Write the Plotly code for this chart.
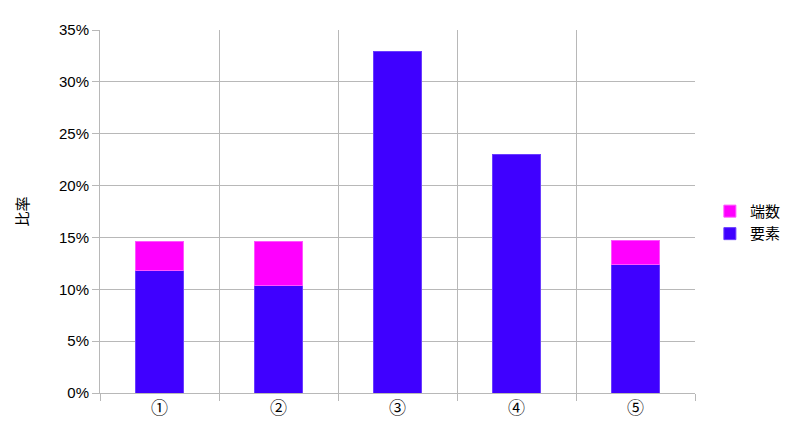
import plotly.graph_objects as go

# categories and values (percent)
categories = ["①", "②", "③", "④", "⑤"]
youso = [11.8, 10.4, 32.9, 22.95, 12.35]   # 要素
hasuu = [2.8, 4.2, None, None, 2.37]        # 端数

font_main = "Liberation Sans, Noto Sans CJK JP, sans-serif"
font_jp = "Noto Sans CJK JP, sans-serif"

fig = go.Figure()
fig.add_trace(go.Bar(
    x=categories, y=youso, name="要素",
    marker=dict(color="#3f00ff", line=dict(color="#6a3dff", width=1)),
))
fig.add_trace(go.Bar(
    x=categories, y=hasuu, name="端数",
    marker=dict(color="#ff00ff", line=dict(color="#ff55ff", width=1)),
))

# page body has an 8px margin, so the margins are shifted accordingly
fig.update_layout(
    barmode="stack",
    bargap=0.59,
    width=800, height=440,
    margin=dict(l=92, r=113, t=22, b=55),
    paper_bgcolor="white",
    plot_bgcolor="white",
    font=dict(family=font_main, size=15, color="black"),
    showlegend=True,
    legend=dict(
        x=1.025, y=0.47, xanchor="left", yanchor="middle",
        traceorder="reversed",
        itemwidth=30,
        font=dict(family=font_jp, size=15),
        tracegroupgap=0,
    ),
    xaxis=dict(
        type="category",
        tickson="boundaries",
        showgrid=True, gridcolor="#b8b8b8", gridwidth=1,
        ticks="outside", ticklen=7, tickcolor="#b8b8b8",
        showline=True, linecolor="#b8b8b8",
        tickfont=dict(family=font_jp, size=17),
    ),
    yaxis=dict(
        range=[0, 35],
        dtick=5,
        ticksuffix="%",
        showgrid=True, gridcolor="#b8b8b8", gridwidth=1,
        ticks="outside", ticklen=7, tickcolor="#b8b8b8",
        showline=True, linecolor="#b8b8b8",
        zeroline=False,
        title=dict(text="比率", font=dict(family=font_jp, size=15), standoff=26),
    ),
)

fig.write_html("out.html")
